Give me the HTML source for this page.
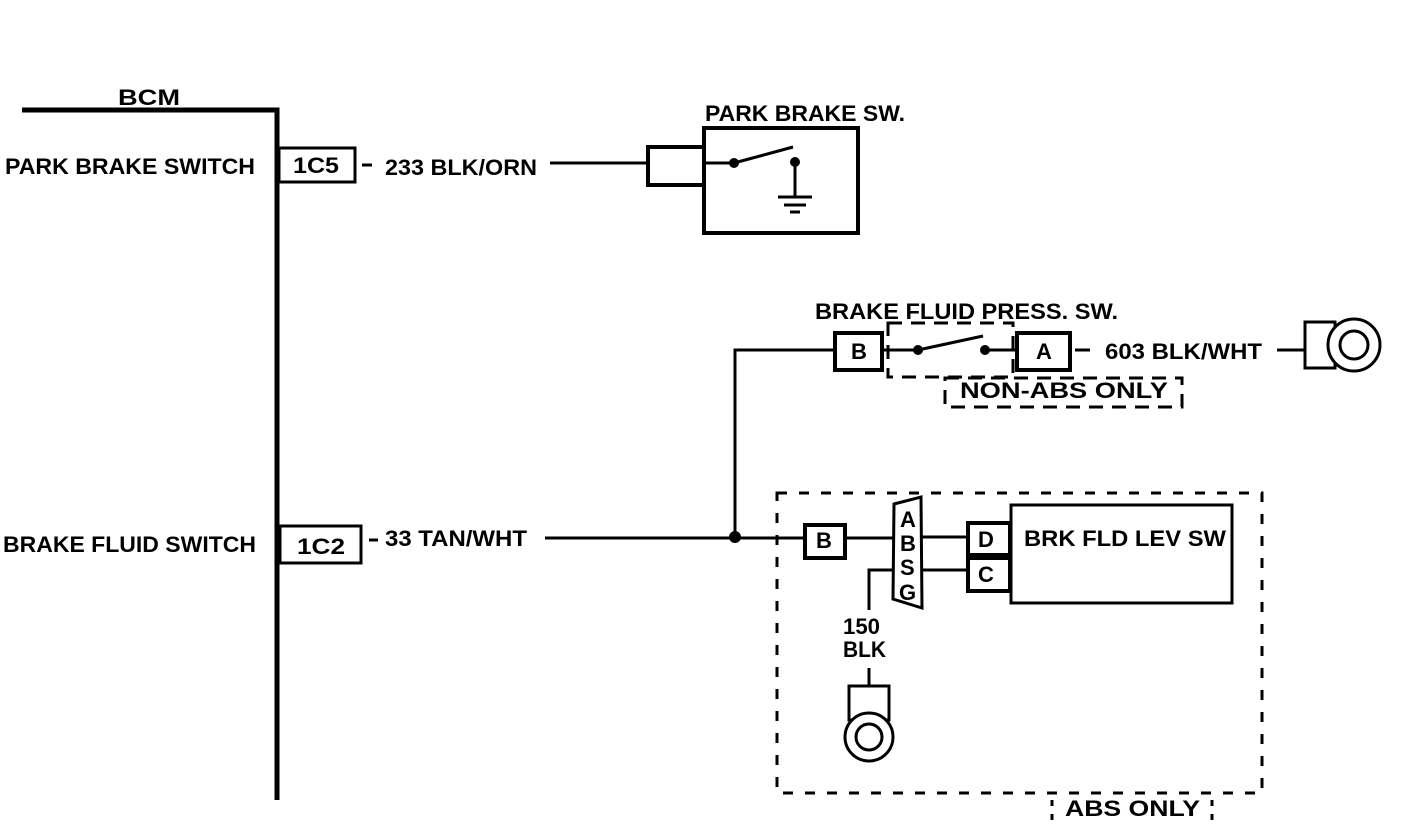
<!DOCTYPE html>
<html><head><meta charset="utf-8"><style>
html,body{margin:0;padding:0;background:#fff;}
svg{display:block;}
text{font-family:"Liberation Sans",sans-serif;font-weight:bold;font-size:22px;fill:#000;}
</style></head><body>
<svg width="1408" height="828" viewBox="0 0 1408 828" xmlns="http://www.w3.org/2000/svg">
<g stroke="#000" fill="none" stroke-width="3">
<path d="M22 110 H277 V800" stroke-width="5"/>
<rect x="279" y="148" width="76" height="34"/>
<rect x="280" y="526" width="81" height="37"/>
<line x1="362" y1="165" x2="372" y2="165"/>
<line x1="550" y1="163" x2="648" y2="163"/>
<rect x="648" y="147" width="56" height="38" stroke-width="4"/>
<rect x="704" y="128" width="154" height="105" stroke-width="4"/>
<line x1="704" y1="163" x2="734" y2="163"/>
<line x1="734" y1="163" x2="793" y2="147"/>
<line x1="795" y1="162" x2="795" y2="197"/>
<line x1="778" y1="197" x2="812" y2="197"/>
<line x1="784" y1="205" x2="806" y2="205"/>
<line x1="790" y1="212" x2="800" y2="212"/>
<line x1="369" y1="540" x2="378" y2="540"/>
<line x1="545" y1="538" x2="805" y2="538"/>
<path d="M735 538 V350 H835"/>
<rect x="835" y="333" width="47" height="37" stroke-width="4"/>
<line x1="882" y1="350" x2="918" y2="350"/>
<line x1="918" y1="350" x2="983" y2="336"/>
<line x1="985" y1="350" x2="1017" y2="350"/>
<rect x="1017" y="333" width="53" height="37" stroke-width="4"/>
<rect x="888" y="323" width="125" height="54" stroke-dasharray="14 9"/>
<rect x="945" y="378" width="237" height="29" stroke-dasharray="14 9"/>
<line x1="1075" y1="350" x2="1090" y2="350"/>
<line x1="1277" y1="350" x2="1305" y2="350"/>
<rect x="1305" y="322" width="30" height="46"/>
<circle cx="1354" cy="345" r="26" fill="#fff"/>
<circle cx="1354" cy="345" r="14"/>
<rect x="777" y="493" width="485" height="300" stroke-dasharray="10 12"/>
<rect x="805" y="525" width="40" height="33" stroke-width="4"/>
<line x1="845" y1="538" x2="893" y2="538"/>
<polygon points="894,504 921,497 922,608 893,599"/>
<line x1="922" y1="537" x2="968" y2="537"/>
<line x1="922" y1="570" x2="968" y2="570"/>
<path d="M893 570 H869 V610"/>
<rect x="968" y="523" width="42" height="32" stroke-width="4"/>
<rect x="968" y="558" width="42" height="33" stroke-width="4"/>
<rect x="1011" y="505" width="221" height="98"/>
<line x1="869" y1="668" x2="869" y2="686"/>
<rect x="849" y="686" width="40" height="34"/>
<circle cx="869" cy="737" r="24" fill="#fff"/>
<circle cx="869" cy="737" r="13"/>
<line x1="1052" y1="800" x2="1052" y2="828" stroke-dasharray="6 8"/>
<line x1="1212" y1="800" x2="1212" y2="828" stroke-dasharray="6 8"/>
</g>
<g fill="#000">
<circle cx="734" cy="163" r="5"/>
<circle cx="795" cy="162" r="5"/>
<circle cx="735" cy="537" r="6"/>
<circle cx="918" cy="350" r="5"/>
<circle cx="985" cy="350" r="5"/>
</g>
<g lengthAdjust="spacingAndGlyphs">
<text x="118" y="105" textLength="62" lengthAdjust="spacingAndGlyphs">BCM</text>
<text x="5" y="174" textLength="250" lengthAdjust="spacingAndGlyphs">PARK BRAKE SWITCH</text>
<text x="293" y="173" textLength="46" lengthAdjust="spacingAndGlyphs">1C5</text>
<text x="385" y="175" textLength="152" lengthAdjust="spacingAndGlyphs">233 BLK/ORN</text>
<text x="705" y="121" textLength="200" lengthAdjust="spacingAndGlyphs">PARK BRAKE SW.</text>
<text x="3" y="552" textLength="253" lengthAdjust="spacingAndGlyphs">BRAKE FLUID SWITCH</text>
<text x="297" y="554" textLength="48" lengthAdjust="spacingAndGlyphs">1C2</text>
<text x="385" y="546" textLength="142" lengthAdjust="spacingAndGlyphs">33 TAN/WHT</text>
<text x="815" y="319" textLength="303" lengthAdjust="spacingAndGlyphs">BRAKE FLUID PRESS. SW.</text>
<text x="851" y="359">B</text>
<text x="1036" y="359">A</text>
<text x="1105" y="359" textLength="157" lengthAdjust="spacingAndGlyphs">603 BLK/WHT</text>
<text x="960" y="398" textLength="208" lengthAdjust="spacingAndGlyphs">NON-ABS ONLY</text>
<text x="816" y="548">B</text>
<text x="900" y="527" font-size="19">A</text>
<text x="900" y="551" font-size="19">B</text>
<text x="900" y="575" font-size="19">S</text>
<text x="899" y="600" font-size="19">G</text>
<text x="978" y="547">D</text>
<text x="978" y="582">C</text>
<text x="1024" y="546" textLength="202" lengthAdjust="spacingAndGlyphs">BRK FLD LEV SW</text>
<text x="843" y="634" textLength="37" lengthAdjust="spacingAndGlyphs">150</text>
<text x="843" y="657" textLength="43" lengthAdjust="spacingAndGlyphs">BLK</text>
<text x="1065" y="816" textLength="135" lengthAdjust="spacingAndGlyphs">ABS ONLY</text>
</g>
</svg>
</body></html>
